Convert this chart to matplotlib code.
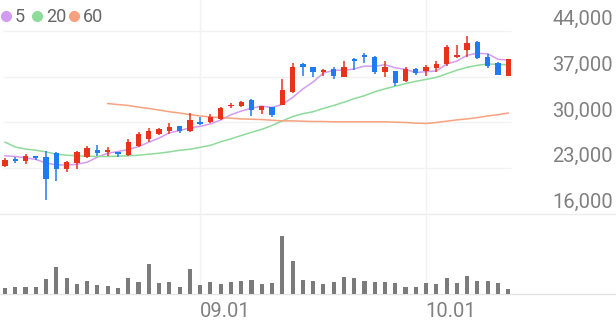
import numpy as np
import pandas as pd
import matplotlib
matplotlib.use("Agg")
import matplotlib.pyplot as plt
from matplotlib.lines import Line2D
from matplotlib.transforms import blended_transform_factory, offset_copy

# daily candles (won)
open_ = [23300, 24350, 24050, 24800, 24650, 25300, 22850, 23750, 24650, 25750,
         25450, 25450, 25000, 26350, 27550, 28300, 28650, 29400, 28650, 30150,
         30000, 30600, 32450, 32450, 33500, 31950, 32300, 32750, 34700, 38950,
         38500, 37750, 38200, 37000, 39750, 40350, 40050, 37750, 37900, 36400,
         38200, 37900, 38350, 38950, 40050, 41100, 42300, 40050, 39150, 37150]
high = [24500, 24650, 25150, 24900, 25600, 25450, 24050, 25600, 26350, 26500,
        26200, 25500, 27550, 28500, 29100, 29100, 29850, 29450, 31500, 30900,
        31350, 32300, 33050, 33350, 33550, 32600, 32350, 36700, 39150, 39050,
        38550, 38200, 38500, 39450, 39800, 40650, 40100, 39450, 37950, 38500,
        38350, 38850, 39450, 41850, 41850, 43250, 42500, 40500, 39200, 39750]
low = [23150, 23750, 23600, 24200, 18150, 21000, 22400, 22850, 24600, 24950,
       24850, 24650, 24850, 26300, 26950, 28150, 28300, 28450, 28600, 29650,
       29850, 30450, 32150, 32400, 31050, 31350, 30900, 32700, 34550, 37150,
       37000, 37150, 36700, 36950, 38050, 39150, 37450, 37000, 35650, 36250,
       37300, 37150, 37750, 38650, 39900, 40050, 39750, 38350, 37300, 37100]
close = [24200, 24050, 24850, 24500, 21350, 22850, 23900, 25450, 26050, 25300,
         25750, 25250, 26950, 28300, 28650, 28950, 29250, 28650, 30450, 29700,
         30900, 32150, 32750, 33200, 31950, 32450, 31200, 35000, 38500, 38500,
         37750, 38050, 37150, 38500, 39450, 40050, 37750, 38500, 36100, 38200,
         37600, 38500, 38950, 41550, 40350, 42150, 39900, 38650, 37300, 39750]

# volume (thousand shares)
volume = [114, 140, 140, 134, 306, 534, 314, 200, 254, 174,
          166, 126, 320, 234, 606, 214, 240, 134, 494, 186,
          234, 200, 234, 266, 274, 194, 220, 1166, 660, 290,
          266, 194, 234, 340, 326, 260, 246, 246, 226, 146,
          146, 214, 194, 314, 226, 360, 266, 260, 226, 100]

# first MA5 values need closes from before the window
ma5_head = [24900, 24800, 24600, 24350]
ma20 = [27000, 26250, 25950, 25750, 25500, 25150, 25000, 24900, 24850, 24800,
        24800, 24850, 24900, 25000, 25150, 25300, 25500, 25750, 25900, 26200,
        26500, 27050, 27500, 28000, 28500, 28950, 29550, 30250, 30900, 31350,
        31650, 32150, 32600, 33100, 33650, 34100, 34700, 35150, 35550, 35950,
        36300, 36600, 36900, 37450, 38000, 38450, 38750, 38950, 38900, 38800]
ma60_start = 10
ma60 = [32900, 32750, 32600, 32350, 32150, 31900, 31650, 31450, 31200, 31000,
        30850, 30750, 30650, 30550, 30500, 30450, 30350, 30250, 30250, 30200,
        30150, 30150, 30100, 30100, 30100, 30100, 30100, 30100, 30050, 30000,
        29900, 29850, 30000, 30200, 30400, 30550, 30750, 31000, 31200, 31450]

price_levels = [44000, 37000, 30000, 23000, 16000]
date_pos = [19, 41]
date_labels = ["09.01", "10.01"]
ma_labels = ["5", "20", "60"]

UP, DOWN = "#e8321c", "#1e7bf2"
MA_COLORS = ["#d49cf0", "#8edb9b", "#f7a27e"]
GRID = "#f2f2f2"
TEXT = "#808080"

plt.rcParams["font.family"] = ["Roboto", "DejaVu Sans"]

W, H = 616, 321
fig = plt.figure(figsize=(W / 100, H / 100), dpi=100)
ax = fig.add_axes([0, (H - 214) / H, 1, 214 / H])
axv = fig.add_axes([0, (H - 294) / H, 1, 80 / H])

slot = 10.27  # px per trading day, first candle at px 5
xlim = (-5 / slot, (W - 5) / slot)
for a in (ax, axv):
    a.set_xlim(*xlim)
    a.axis("off")

ax.set_ylim(16000, 16000 + 214 * 153.0)
axv.set_ylim(0, 1600)

x = np.arange(len(close))
o, h, l, c = map(np.array, (open_, high, low, close))
colors = np.where(c >= o, UP, DOWN)

# grid
grid_x0, grid_x1 = -2 / slot, (511 - 5) / slot
ax.hlines(price_levels[:-1], grid_x0, grid_x1, color=GRID, lw=1, zorder=0)
ax.axhline(price_levels[-1], color="#ececec", lw=1, clip_on=False, zorder=0)
axv.axhline(0, color="#e4e4e4", lw=1, clip_on=False, zorder=0)
for a in (ax, axv):
    for p in date_pos:
        a.axvline(p, color=GRID, lw=1, zorder=0)

# moving averages
ma5 = pd.Series(close, dtype=float).rolling(5).mean().to_numpy()
ma5[:len(ma5_head)] = ma5_head
ax.plot(x, ma5, color=MA_COLORS[0], lw=1.1, zorder=1)
ax.plot(x, ma20, color=MA_COLORS[1], lw=1.1, zorder=1)
ax.plot(x[ma60_start:], ma60, color=MA_COLORS[2], lw=1.1, zorder=1)

# candles
ax.vlines(x, l, h, colors=colors, lw=1.1, zorder=2)
body = np.maximum(np.abs(c - o), 120)
ax.bar(x, body, bottom=np.minimum(o, c), width=0.52, color=colors, zorder=3)

# volume
axv.bar(x, volume, width=0.4, color="#7b7b7b", zorder=2)

# price labels on the right
tr = blended_transform_factory(fig.transFigure, ax.transData)
tr = offset_copy(tr, fig=fig, y=6, units="dots")
for v in price_levels:
    ax.text(613 / W, v, f"{v:,}", transform=tr, ha="right", va="baseline",
            fontsize=14.5, color=TEXT)

# date labels
trd = blended_transform_factory(axv.transData, fig.transFigure)
for p, s in zip(date_pos, date_labels):
    axv.text(p - 0.05, (H - 317) / H, s, transform=trd, ha="left",
             va="baseline", fontsize=14.5, color=TEXT)

# legend
leg_x = [6, 37, 74]
for xc, lab, col in zip(leg_x, ma_labels, MA_COLORS):
    fig.add_artist(Line2D([xc / W], [1 - 16 / H], transform=fig.transFigure,
                          marker="o", markersize=7, color=col, lw=0))
    fig.text((xc + 9) / W, 1 - 22 / H, lab, fontsize=13, color="#666666",
             va="baseline")

fig.savefig("out.png", dpi=100)
